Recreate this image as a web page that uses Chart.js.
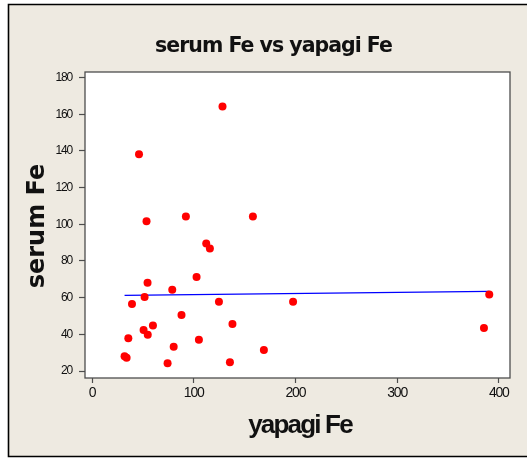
<!DOCTYPE html>
<html>
<head>
<meta charset="utf-8">
<script src="https://cdn.jsdelivr.net/npm/chart.js@4"></script>
<style>
  html, body { margin: 0; padding: 0; background: #ffffff; }
  #c { display: block; }
</style>
</head>
<body>
<canvas id="c" width="527" height="458"></canvas>
<script>
// yapagi Fe (x) against serum Fe (y), one entry per animal
const yapagiFe = [46.2, 128.3, 53.6, 92.3, 158.2, 112.3, 115.9, 102.8, 54.6, 78.9,
                  51.7, 39.3, 124.8, 88.0, 59.9, 50.7, 54.8, 138.1, 35.7, 105.1,
                  80.3, 169.0, 32.0, 34.0, 74.3, 135.6, 197.7, 390.6, 385.4];
const serumFe  = [138.2, 164.2, 101.7, 104.2, 104.2, 89.5, 86.8, 71.2, 68.1, 64.3,
                  60.4, 56.5, 57.7, 50.6, 44.8, 42.4, 39.8, 45.6, 37.8, 37.0,
                  33.3, 31.4, 28.1, 27.2, 24.2, 24.8, 57.7, 61.7, 43.5];

// tick positions on both axes
const xTickValues = [0, 100, 200, 300, 400];
const yTickValues = [20, 40, 60, 80, 100, 120, 140, 160, 180];

// fitted regression line: serum Fe = fitIntercept + fitSlope * yapagi Fe
const fitIntercept = 61.0;
const fitSlope = 0.0062;

const titleText = 'serum Fe vs yapagi Fe';
const xTitle = 'yapagi Fe';
const yTitle = 'serum Fe';

const points = yapagiFe.map((x, i) => ({ x: x, y: serumFe[i] }));
const xLo = Math.min(...yapagiFe);
const xHi = Math.max(...yapagiFe);
const fitLine = [xLo, xHi].map(x => ({ x: x, y: fitIntercept + fitSlope * x }));

const PANEL = '#EEEAE1';
const AXIS = '#4d4d4d';
const TEXT = '#111111';
const SANS = '"Liberation Sans", Arial, sans-serif';

// background panel, outer frame, white plot area, plot box, titles
const panelPlugin = {
  id: 'panel',
  beforeDraw(chart) {
    const ctx = chart.ctx;
    const W = chart.width, H = chart.height;
    const a = chart.chartArea;
    ctx.save();
    ctx.fillStyle = '#ffffff';
    ctx.fillRect(0, 0, W, H);
    ctx.fillStyle = PANEL;
    ctx.fillRect(8, 4, W - 8, 452);
    ctx.strokeStyle = '#000000';
    ctx.lineWidth = 1.6;
    ctx.beginPath();
    ctx.moveTo(W, 4.5);
    ctx.lineTo(8.5, 4.5);
    ctx.lineTo(8.5, 456.5);
    ctx.lineTo(W, 456.5);
    ctx.stroke();
    ctx.fillStyle = '#ffffff';
    ctx.fillRect(a.left, a.top, a.right - a.left, a.bottom - a.top);
    ctx.restore();
    // tight tracking for the tick labels drawn by the scales
    ctx.letterSpacing = '-1.2px';
  },
  beforeDatasetsDraw(chart) {
    const ctx = chart.ctx;
    const a = chart.chartArea;
    ctx.save();
    ctx.strokeStyle = AXIS;
    ctx.lineWidth = 1.3;
    ctx.strokeRect(a.left, a.top, a.right - a.left, a.bottom - a.top);
    ctx.restore();
  },
  afterDraw(chart) {
    const ctx = chart.ctx;
    const a = chart.chartArea;
    ctx.save();
    ctx.fillStyle = TEXT;
    ctx.textBaseline = 'alphabetic';
    ctx.textAlign = 'center';

    // main title
    ctx.letterSpacing = '-1px';
    ctx.font = 'bold 20.5px "DejaVu Sans", sans-serif';
    ctx.fillText(titleText, 273.5, 52);

    // x axis title
    ctx.letterSpacing = '-1.8px';
    ctx.font = 'bold 26px ' + SANS;
    ctx.fillText(xTitle, (a.left + a.right) / 2 + 2.5, 432.5);

    // y axis title, reading upwards
    ctx.letterSpacing = '0px';
    ctx.font = 'bold 24px "DejaVu Sans", sans-serif';
    ctx.translate(43.5, (a.top + a.bottom) / 2 + 1);
    ctx.rotate(-Math.PI / 2);
    ctx.fillText(yTitle, 0, 0);
    ctx.restore();
    ctx.letterSpacing = '0px';
  }
};

new Chart(document.getElementById('c'), {
  type: 'scatter',
  data: {
    datasets: [
      {
        type: 'scatter',
        data: points,
        backgroundColor: '#ff0000',
        borderColor: '#ff0000',
        borderWidth: 0,
        pointRadius: 4,
        pointStyle: 'circle',
        order: 1
      },
      {
        type: 'line',
        data: fitLine,
        borderColor: '#0000ff',
        borderWidth: 1.2,
        pointRadius: 0,
        fill: false,
        order: 2
      }
    ]
  },
  plugins: [panelPlugin],
  options: {
    responsive: false,
    devicePixelRatio: 1,
    animation: false,
    events: [],
    layout: { padding: { left: 0, right: 17, top: 72, bottom: 0 } },
    plugins: {
      legend: { display: false },
      tooltip: { enabled: false },
      title: { display: false }
    },
    scales: {
      x: {
        type: 'linear',
        position: 'bottom',
        min: -6.9,
        max: 411,
        afterBuildTicks(s) { s.ticks = xTickValues.map(v => ({ value: v })); },
        afterFit(s) { s.height = 80; },
        border: { display: false },
        grid: { drawOnChartArea: false, drawTicks: true, tickLength: 5, color: AXIS, tickWidth: 1.2 },
        ticks: { color: '#111111', padding: 2, maxRotation: 0, font: { family: SANS, size: 14 } },
        title: { display: false }
      },
      y: {
        type: 'linear',
        position: 'left',
        min: 16.2,
        max: 183,
        afterBuildTicks(s) { s.ticks = yTickValues.map(v => ({ value: v })); },
        afterFit(s) { s.width = 85; },
        border: { display: false },
        grid: { drawOnChartArea: false, drawTicks: true, tickLength: 6, color: AXIS, tickWidth: 1.2 },
        ticks: { color: '#111111', padding: 7, font: { family: SANS, size: 12 } },
        title: { display: false }
      }
    }
  }
});
</script>
</body>
</html>
